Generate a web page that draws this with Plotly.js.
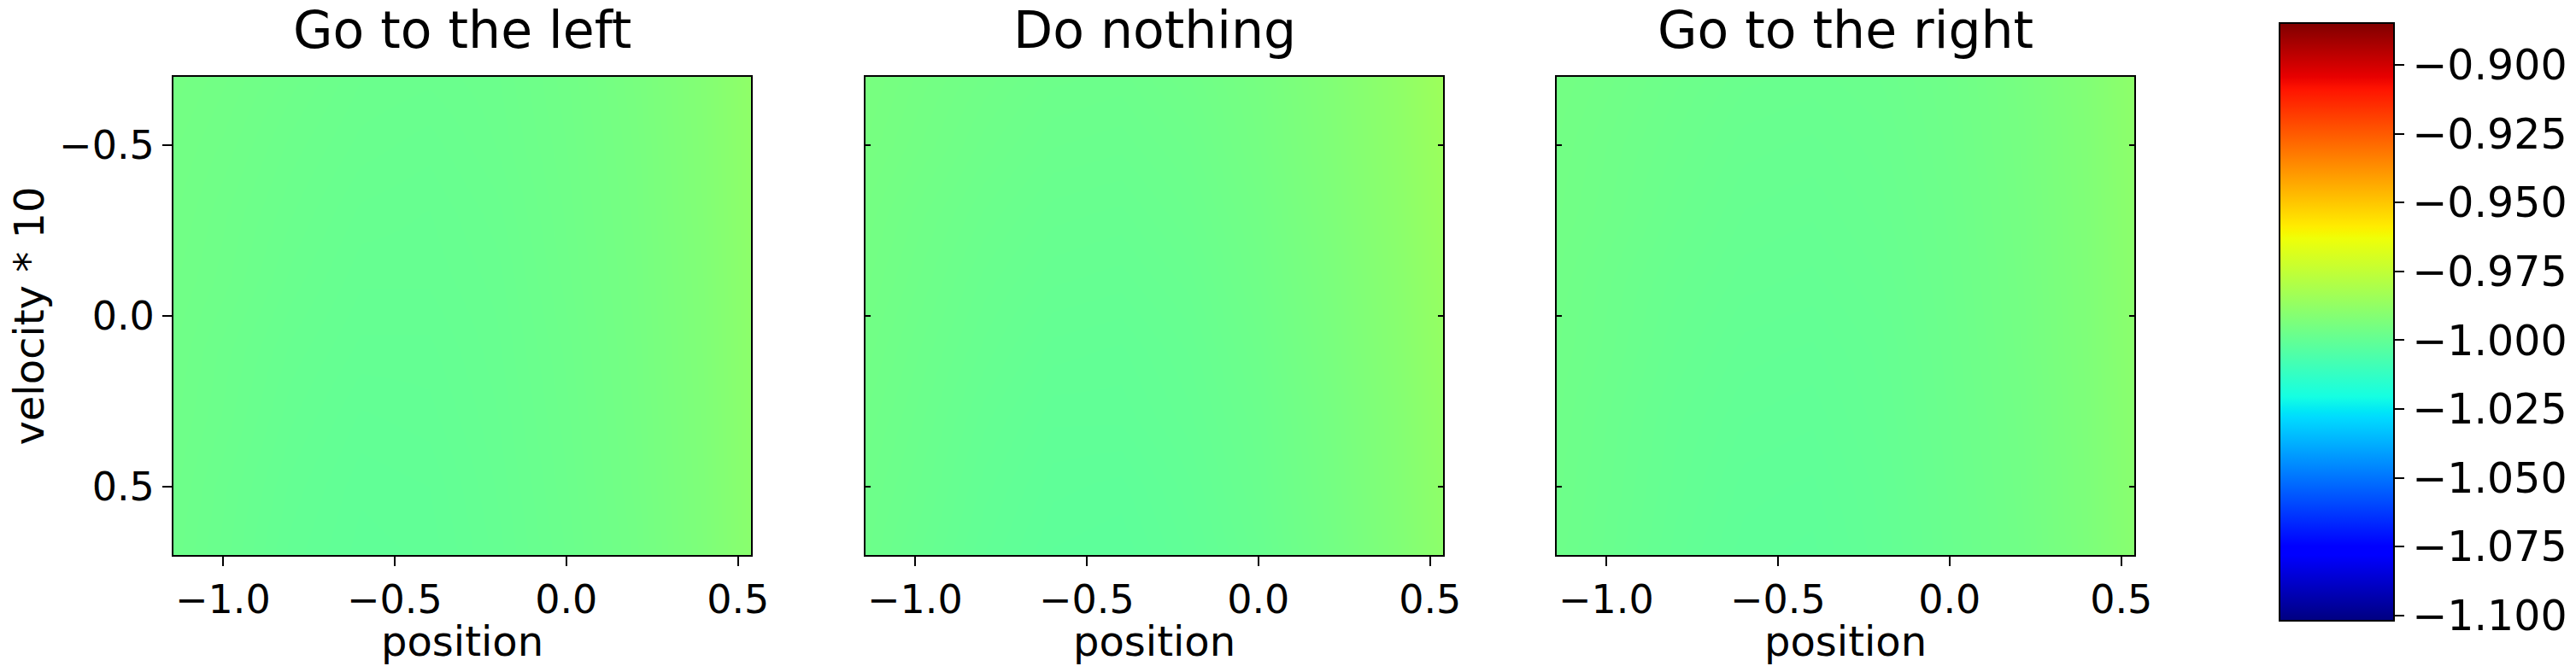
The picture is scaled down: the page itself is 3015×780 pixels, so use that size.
<!DOCTYPE html>
<html>
<head>
<meta charset="utf-8">
<script src="https://cdn.plot.ly/plotly-3.0.1.min.js"></script>
<style>
  body { margin: 0; background: #fff; }
  #chart { width: 3015px; height: 780px; }
</style>
</head>
<body>
<div id="chart"></div>
<script>
// grid of the value maps
let positions = [-1.2, -1.0, -0.8, -0.6, -0.4, -0.2, 0.0, 0.2, 0.4, 0.6];
let velocities = [-0.7, -0.5, -0.3, -0.1, 0.1, 0.3, 0.5, 0.7];

let panelTitles = ['Go to the left', 'Do nothing', 'Go to the right'];

// value of each action, rows = velocity, cols = position
let leftValues = [
    [-0.9951, -0.9960, -0.9970, -0.9979, -0.9981, -0.9977, -0.9964, -0.9944, -0.9914, -0.9868],
    [-0.9955, -0.9964, -0.9975, -0.9983, -0.9986, -0.9979, -0.9966, -0.9947, -0.9916, -0.9871],
    [-0.9957, -0.9968, -0.9979, -0.9988, -0.9990, -0.9983, -0.9968, -0.9949, -0.9918, -0.9873],
    [-0.9960, -0.9970, -0.9983, -0.9992, -0.9992, -0.9986, -0.9970, -0.9951, -0.9921, -0.9875],
    [-0.9962, -0.9975, -0.9988, -0.9996, -0.9996, -0.9988, -0.9973, -0.9953, -0.9923, -0.9877],
    [-0.9964, -0.9977, -0.9992, -1.0001, -0.9999, -0.9990, -0.9975, -0.9955, -0.9925, -0.9879],
    [-0.9966, -0.9981, -0.9996, -1.0005, -1.0003, -0.9992, -0.9977, -0.9957, -0.9927, -0.9881],
    [-0.9968, -0.9983, -0.9999, -1.0007, -1.0005, -0.9994, -0.9979, -0.9960, -0.9929, -0.9884]
];
let nothingValues = [
    [-0.9940, -0.9953, -0.9964, -0.9973, -0.9975, -0.9966, -0.9949, -0.9921, -0.9884, -0.9829],
    [-0.9944, -0.9957, -0.9970, -0.9979, -0.9981, -0.9973, -0.9953, -0.9925, -0.9888, -0.9836],
    [-0.9949, -0.9964, -0.9977, -0.9986, -0.9988, -0.9979, -0.9960, -0.9931, -0.9894, -0.9842],
    [-0.9953, -0.9968, -0.9983, -0.9992, -0.9994, -0.9986, -0.9966, -0.9938, -0.9901, -0.9849],
    [-0.9957, -0.9973, -0.9988, -0.9999, -1.0001, -0.9992, -0.9973, -0.9944, -0.9907, -0.9855],
    [-0.9962, -0.9977, -0.9994, -1.0005, -1.0005, -0.9996, -0.9979, -0.9951, -0.9914, -0.9862],
    [-0.9966, -0.9981, -0.9999, -1.0010, -1.0012, -1.0001, -0.9983, -0.9955, -0.9918, -0.9868],
    [-0.9968, -0.9986, -1.0003, -1.0014, -1.0016, -1.0005, -0.9988, -0.9960, -0.9923, -0.9873]
];
let rightValues = [
    [-0.9953, -0.9962, -0.9973, -0.9981, -0.9983, -0.9979, -0.9968, -0.9949, -0.9918, -0.9873],
    [-0.9955, -0.9966, -0.9977, -0.9986, -0.9988, -0.9983, -0.9970, -0.9951, -0.9921, -0.9875],
    [-0.9957, -0.9968, -0.9981, -0.9990, -0.9992, -0.9986, -0.9973, -0.9953, -0.9923, -0.9877],
    [-0.9960, -0.9973, -0.9986, -0.9994, -0.9996, -0.9990, -0.9975, -0.9955, -0.9925, -0.9879],
    [-0.9962, -0.9975, -0.9990, -0.9999, -1.0001, -0.9994, -0.9977, -0.9957, -0.9927, -0.9881],
    [-0.9964, -0.9979, -0.9994, -1.0003, -1.0005, -0.9996, -0.9979, -0.9960, -0.9929, -0.9884],
    [-0.9966, -0.9981, -0.9996, -1.0007, -1.0009, -0.9999, -0.9981, -0.9962, -0.9931, -0.9886],
    [-0.9968, -0.9983, -0.9999, -1.0010, -1.0012, -1.0001, -0.9983, -0.9964, -0.9933, -0.9888]
];

let axisTicks = [-1.0, -0.5, 0.0, 0.5];
let velocityTicks = [-0.5, 0.0, 0.5];
let colorTicks = [-0.900, -0.925, -0.950, -0.975, -1.000, -1.025, -1.050, -1.075, -1.100];
let colorMin = -1.1019;
let colorMax = -0.8848;

// matplotlib 'jet'
let jet = [
    [0, 'rgb(0,0,128)'], [0.11, 'rgb(0,0,255)'], [0.125, 'rgb(0,0,255)'],
    [0.34, 'rgb(0,219,255)'], [0.35, 'rgb(0,230,247)'], [0.375, 'rgb(21,255,226)'],
    [0.64, 'rgb(239,255,8)'], [0.65, 'rgb(247,246,0)'], [0.66, 'rgb(255,236,0)'],
    [0.89, 'rgb(255,19,0)'], [0.91, 'rgb(232,0,0)'], [1, 'rgb(128,0,0)']
];

let font = 'DejaVu Sans, sans-serif';
let W = 3015, H = 780;
let panels = [[203, 879], [1013, 1689], [1822, 2498]];
let plotTop = 90, plotBottom = 650;

let data = [leftValues, nothingValues, rightValues].map(function (z, i) {
    return {
        type: 'heatmap',
        x: positions,
        y: velocities,
        z: z,
        zsmooth: 'best',
        coloraxis: 'coloraxis',
        xaxis: i === 0 ? 'x' : 'x' + (i + 1),
        yaxis: i === 0 ? 'y' : 'y' + (i + 1),
        hoverinfo: 'skip'
    };
});

let layout = {
    width: W,
    height: H,
    margin: {l: 0, r: 0, t: 0, b: 0},
    paper_bgcolor: 'white',
    plot_bgcolor: 'white',
    font: {family: font, color: 'black'},
    showlegend: false,
    coloraxis: {
        colorscale: jet,
        cmin: colorMin,
        cmax: colorMax,
        colorbar: {
            x: 2668 / W,
            xanchor: 'left',
            y: (H - 377) / H,
            yanchor: 'middle',
            lenmode: 'pixels',
            len: 700,
            thicknessmode: 'pixels',
            thickness: 134,
            xpad: 0,
            ypad: 0,
            outlinewidth: 2,
            outlinecolor: 'black',
            ticks: 'outside',
            ticklen: 11,
            tickwidth: 2,
            tickcolor: 'black',
            tickvals: colorTicks,
            tickformat: '.3f',
            tickfont: {family: font, size: 49, color: 'black'}
        }
    },
    annotations: []
};

panels.forEach(function (p, i) {
    let sfx = i === 0 ? '' : String(i + 1);
    layout['xaxis' + sfx] = {
        domain: [p[0] / W, p[1] / W],
        anchor: 'y' + sfx,
        range: [-1.144, 0.538],
        tickvals: axisTicks,
        tickformat: '.1f',
        ticks: 'outside',
        ticklen: 11,
        tickwidth: 2,
        tickcolor: 'black',
        showline: true,
        linecolor: 'black',
        linewidth: 2,
        mirror: true,
        showgrid: false,
        zeroline: false,
        tickfont: {family: font, size: 46, color: 'black'},
        automargin: false
    };
    layout['yaxis' + sfx] = {
        domain: [(H - plotBottom) / H, (H - plotTop) / H],
        anchor: 'x' + sfx,
        range: [0.7, -0.7],
        tickvals: velocityTicks,
        tickformat: '.1f',
        ticks: i === 0 ? 'outside' : 'inside',
        ticklen: i === 0 ? 11 : 6,
        tickwidth: 2,
        tickcolor: 'black',
        showticklabels: i === 0,
        showline: true,
        linecolor: 'black',
        linewidth: 2,
        mirror: i === 0 ? true : 'ticks',
        showgrid: false,
        zeroline: false,
        tickfont: {family: font, size: 46, color: 'black'},
        automargin: false
    };
    if (i === 0) {
        layout.yaxis.title = {text: 'velocity * 10', font: {family: font, size: 48, color: 'black'}, standoff: 2};
    }
    // panel title
    layout.annotations.push({
        text: panelTitles[i],
        xref: 'paper',
        yref: 'paper',
        x: (p[0] + p[1]) / 2 / W,
        y: (H - 72) / H,
        xanchor: 'center',
        yanchor: 'bottom',
        showarrow: false,
        font: {family: font, size: 60, color: 'black'}
    });
    // x axis label
    layout.annotations.push({
        text: 'position',
        xref: 'paper',
        yref: 'paper',
        x: (p[0] + p[1]) / 2 / W,
        y: (H - 751) / H,
        xanchor: 'center',
        yanchor: 'middle',
        borderpad: 0,
        showarrow: false,
        font: {family: font, size: 48, color: 'black'}
    });
});

Plotly.newPlot('chart', data, layout, {staticPlot: true});
</script>
</body>
</html>
